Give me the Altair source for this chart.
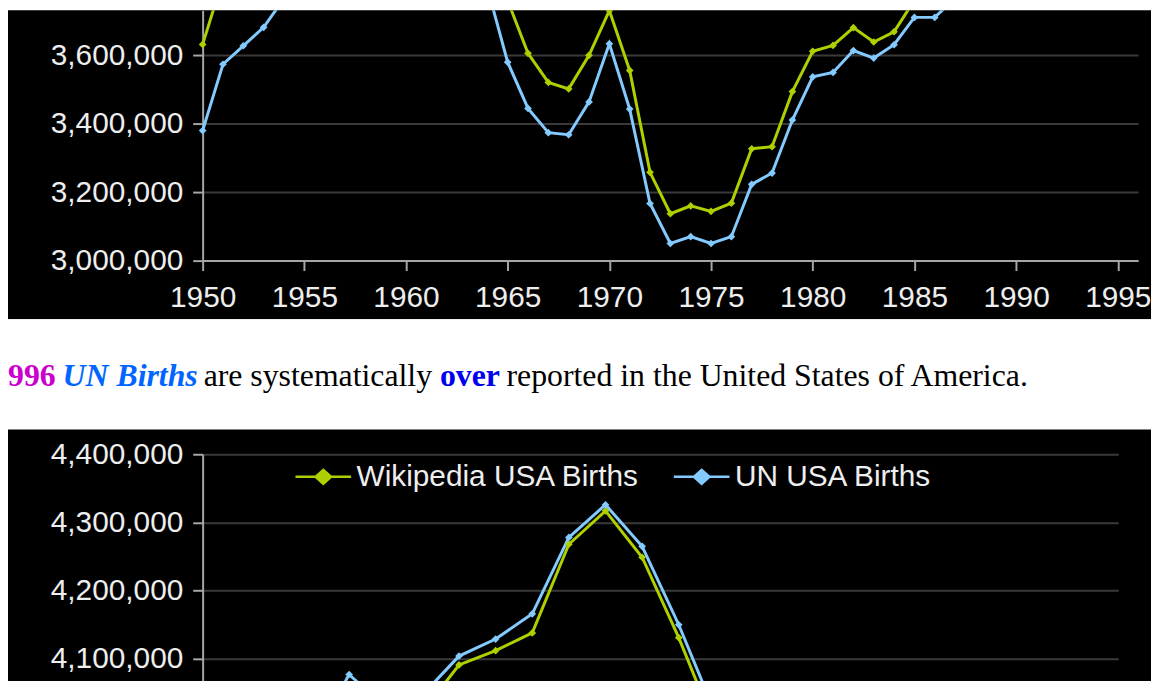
import altair as alt
import pandas as pd

# ---------------- data ----------------
SERIES = ["Wikipedia USA Births", "UN USA Births"]
COLORS = ["#aecf00", "#83caff"]

years1 = list(range(1950, 1997))
wiki1 = [3632000, 3823000, 3913000, 3965000, 4078000, 4104000, 4218000, 4308000,
         4255000, 4245000, 4258000, 4268000, 4167000, 4098000, 4027000, 3760000,
         3606000, 3521000, 3502000, 3600000, 3731000, 3556000, 3258000, 3137000,
         3160000, 3144000, 3168000, 3327000, 3333000, 3494000, 3612000, 3629000,
         3681000, 3639000, 3669000, 3761000, 3757000, 3809000, 3910000, 4041000,
         4158000, 4111000, 4065000, 4000000, 3953000, 3900000, 3891000]
un1 = [3380000, 3574000, 3628000, 3682000, 3766000, 3800000, 3900000, 3980000,
       3950000, 3960000, 3970000, 3990000, 3920000, 3870000, 3798000, 3580000,
       3445000, 3374000, 3368000, 3464000, 3634000, 3443000, 3167000, 3050000,
       3070000, 3050000, 3070000, 3223000, 3256000, 3411000, 3537000, 3550000,
       3614000, 3592000, 3631000, 3711000, 3711000, 3767000, 3860000, 3990000,
       4110000, 4070000, 4030000, 3970000, 3930000, 3890000, 3890000]

years2 = list(range(1996, 2021))
wiki2 = [3891000, 3881000, 3942000, 3959000, 4059000, 4026000, 4022000, 4091000,
         4112000, 4138000, 4268000, 4317000, 4249000, 4131000, 3999000, 3954000,
         3953000, 3932000, 3988000, 3978000, 3946000, 3856000, 3792000, 3748000,
         3614000]
un2 = [3900000, 3910000, 3950000, 3980000, 4077000, 4028000, 4047000, 4104000,
       4129000, 4166000, 4278000, 4326000, 4265000, 4150000, 4020000, 3970000,
       3960000, 3945000, 4000000, 3990000, 3960000, 3870000, 3800000, 3760000,
       3630000]

x1_ticks = [1950, 1955, 1960, 1965, 1970, 1975, 1980, 1985, 1990, 1995]
y1_ticks = [3000000, 3200000, 3400000, 3600000]
y2_ticks = [4100000, 4200000, 4300000, 4400000]

# sentence between the two charts: (text, x, colour, weight, style)
text_parts = [
    ("1996", -16, "#cc00cc", "bold", "normal"),
    ("UN Births", 55, "#0066ff", "bold", "italic"),
    ("are systematically", 197, "#000000", "normal", "normal"),
    ("over", 435, "#0000ee", "bold", "normal"),
    ("reported in the United States of America.", 502, "#000000", "normal", "normal"),
]

df1 = pd.DataFrame({
    "year": years1 + years1,
    "births": wiki1 + un1,
    "series": [SERIES[0]] * len(years1) + [SERIES[1]] * len(years1),
})
df2 = pd.DataFrame({
    "year": years2 + years2,
    "births": wiki2 + un2,
    "series": [SERIES[0]] * len(years2) + [SERIES[1]] * len(years2),
})

# ---------------- layout ----------------
W = 1151
H1 = 311
HT = 111
H2 = 260
FONT = "Liberation Sans"
AX_COL = "#a6a6a6"
GRID_COL = "#3a3a3a"
LAB_COL = "#eeeeee"

yaxis_common = dict(grid=True, gridColor=GRID_COL, gridWidth=2, domainColor=AX_COL,
                    domainWidth=2, tickColor=AX_COL, tickWidth=2, tickSize=10,
                    labelPadding=10, labelFont=FONT, labelFontSize=30,
                    labelColor=LAB_COL, format=",.0f", title=None, offset=-196)

# chart 1
x1 = alt.X("year:Q",
           scale=alt.Scale(domain=[1950, 1996], range=[196, 1138], nice=False, zero=False),
           axis=alt.Axis(values=x1_ticks, format="d", grid=False, offset=-59,
                         domainColor=AX_COL, domainWidth=2, tickColor=AX_COL, tickWidth=2,
                         tickSize=10, labelPadding=12, labelFont=FONT, labelFontSize=30,
                         labelColor=LAB_COL, labelFlush=False, labelOverlap=False,
                         title=None))
y1 = alt.Y("births:Q",
           scale=alt.Scale(domain=[3000000, 3731500], range=[252, 0], nice=False, zero=False),
           axis=alt.Axis(values=y1_ticks, **yaxis_common))
col1 = alt.Color("series:N", scale=alt.Scale(domain=SERIES, range=COLORS), legend=None)
base1 = alt.Chart(df1).encode(x=x1, y=y1, color=col1)
c1 = alt.layer(
    base1.mark_line(strokeWidth=3, clip=True),
    base1.mark_point(shape="diamond", filled=True, size=60, opacity=1, clip=True),
).properties(width=W, height=H1)

# sentence
tdf = pd.DataFrame({"a": [0]})
tlayers = []
for txt, xp, colr, wt, st in text_parts:
    tlayers.append(
        alt.Chart(tdf).mark_text(text=txt, font="Liberation Serif", fontSize=32,
                                 color=colr, fontWeight=wt, fontStyle=st,
                                 align="left", baseline="alphabetic", clip=True)
        .encode(x=alt.value(xp), y=alt.value(67))
    )
ct = alt.layer(*tlayers).properties(width=W, height=HT,
                                    view=alt.ViewBackground(fill="white", strokeWidth=0))

# chart 2
x2 = alt.X("year:Q",
           scale=alt.Scale(domain=[1996, 2021], range=[196, 1118], nice=False, zero=False),
           axis=None)
y2 = alt.Y("births:Q",
           scale=alt.Scale(domain=[4057767, 4400000], range=[H2, 25], nice=False, zero=False),
           axis=alt.Axis(values=y2_ticks, **yaxis_common))
legend2 = alt.Legend(orient="none", legendX=288, legendY=18, direction="horizontal",
                     title=None, padding=0,
                     symbolType="M-1,0L1,0M-0.28,0L0,-0.25L0.28,0L0,0.25ZM-0.12,0L0,-0.1L0.12,0L0,0.1Z",
                     symbolSize=3136, symbolStrokeWidth=2.5, labelFont=FONT,
                     labelFontSize=30, labelColor=LAB_COL, labelOffset=4,
                     columnPadding=28, labelLimit=500)
col2 = alt.Color("series:N", scale=alt.Scale(domain=SERIES, range=COLORS), legend=legend2)
base2 = alt.Chart(df2).encode(x=x2, y=y2, color=col2)
c2 = alt.layer(
    base2.mark_line(strokeWidth=3, clip=True),
    base2.mark_point(shape="diamond", filled=True, size=60, opacity=1, clip=True),
).properties(width=W, height=H2)

chart = (
    alt.vconcat(c1, ct, c2, spacing=0)
    .resolve_scale(color="independent", x="independent", y="independent")
    .resolve_legend(color="independent")
    .properties(padding=0, bounds="flush")
    .configure(background="white")
    .configure_view(fill="black", strokeWidth=0)
)

chart.save("out.html", embed_options={"renderer": "svg", "actions": False})
